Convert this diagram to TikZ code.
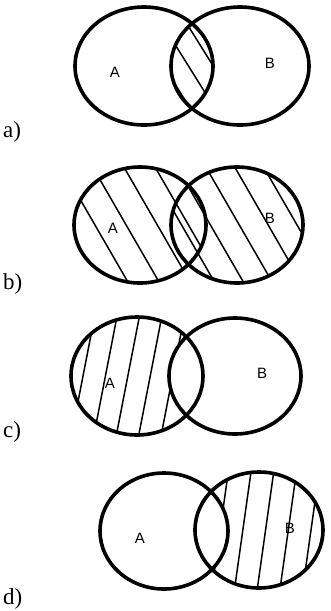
\documentclass[tikz,border=0pt]{standalone}
\usepackage{fontspec}
\setmainfont{Liberation Serif}
\newfontfamily\lettrefont{Liberation Sans}
\usetikzlibrary{calc}

\tikzset{
  contour/.style={line width=3.6pt},
  hachure/.style={line width=1.5pt},
  lettre/.style={font=\lettrefont\fontsize{15}{15}\selectfont, inner sep=0pt},
  partie/.style={font=\fontsize{23}{23}\selectfont, anchor=base west, inner sep=0pt}
}

% #1,#2 : origine, #3 : angle, #4 : ecart, #5 : decalage
\newcommand{\hachures}[5]{%
			\foreach \k in {-6,...,6}{%
					\pgfmathsetmacro{\dec}{\k*#4+#5}%
					\draw[hachure] ($(#1,#2)+(#3+90:\dec)+(#3:-100)$) -- ($(#1,#2)+(#3+90:\dec)+(#3:100)$);}%
		}

\begin{document}
\begin{tikzpicture}[x=1pt, y=-1pt]
			\useasboundingbox (0,0) rectangle (331,611);
			% a) A inter B
			\begin{scope}
				\begin{scope}
					\clip (144,66) ellipse [x radius=69, y radius=59];
					\clip (240,66) ellipse [x radius=69, y radius=59];
					\hachures{192}{66}{58}{21}{3}
				\end{scope}
				\draw[contour] (144,66) ellipse [x radius=69, y radius=59];
				\draw[contour] (240,66) ellipse [x radius=69, y radius=59];
				\node[lettre] (aA) at (115,72) {A};
				\node[lettre] (aB) at (270,63) {B};
				\node[partie] (a) at (3,137) {a)};
			\end{scope}
			% b) A union B
			\begin{scope}
				\begin{scope}
					\clip (140,225) ellipse [x radius=66, y radius=58];
					\hachures{140}{225}{60}{27}{12}
				\end{scope}
				\begin{scope}
					\clip (237,225) ellipse [x radius=66, y radius=58];
					\hachures{237}{225}{60}{25}{-2}
				\end{scope}
				\draw[contour] (140,225) ellipse [x radius=66, y radius=58];
				\draw[contour] (237,225) ellipse [x radius=66, y radius=58];
				\node[lettre] (bA) at (113,228) {A};
				\node[lettre] (bB) at (270,218) {B};
				\node[partie] (b) at (3,289) {b)};
			\end{scope}
			% c) A prive de B
			\begin{scope}
				\begin{scope}[even odd rule]
					\clip (137,376) ellipse [x radius=66, y radius=59];
					\clip (137,376) ellipse [x radius=66, y radius=59]
						(235,376) ellipse [x radius=66, y radius=58];
					\hachures{137}{376}{101}{22}{9}
				\end{scope}
				\draw[contour] (137,376) ellipse [x radius=66, y radius=59];
				\draw[contour] (235,376) ellipse [x radius=66, y radius=58];
				\node[lettre] (cA) at (110,383) {A};
				\node[lettre] (cB) at (262,373) {B};
				\node[partie] (c) at (3,437) {c)};
			\end{scope}
			% d) B prive de A
			\begin{scope}
				\begin{scope}[even odd rule]
					\clip (259,530) ellipse [x radius=64, y radius=58];
					\clip (164,531) ellipse [x radius=64, y radius=58]
						(259,530) ellipse [x radius=64, y radius=58];
					\hachures{259}{530}{98}{22.5}{16}
				\end{scope}
				\draw[contour] (164,531) ellipse [x radius=64, y radius=58];
				\draw[contour] (259,530) ellipse [x radius=64, y radius=58];
				\node[lettre] (dA) at (140,538) {A};
				\node[lettre] (dB) at (290,528) {B};
				\node[partie] (d) at (3,604) {d)};
			\end{scope}
		\end{tikzpicture}
\end{document}
